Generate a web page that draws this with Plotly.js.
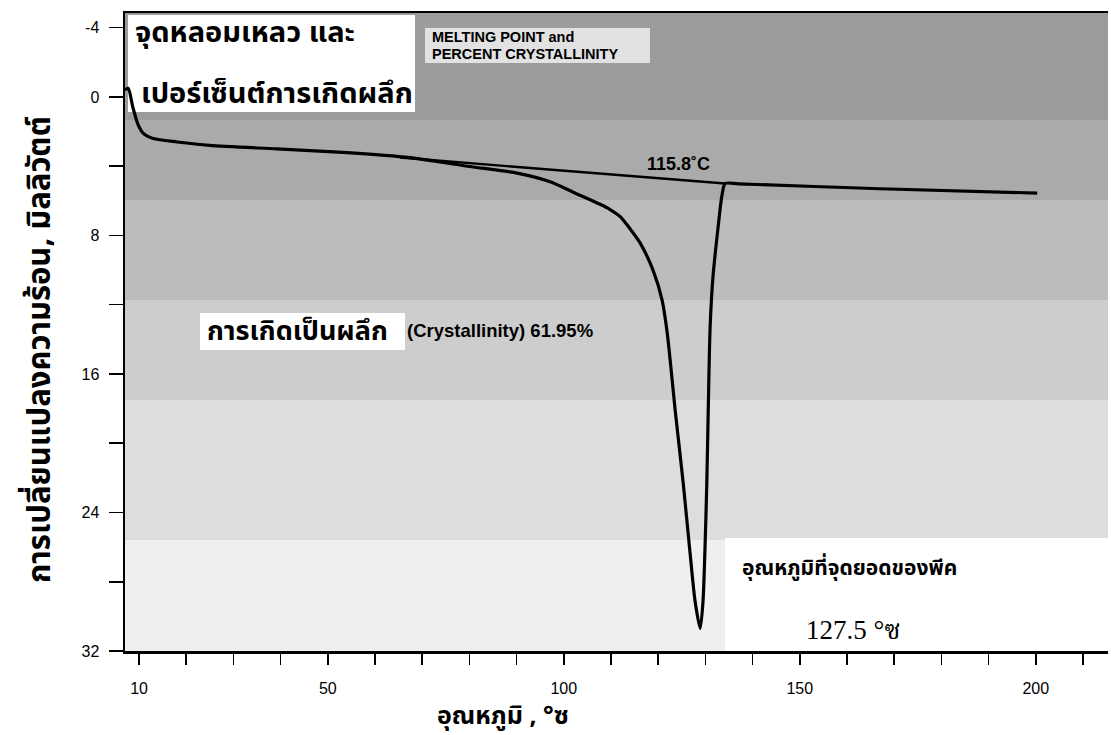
<!DOCTYPE html>
<html>
<head>
<meta charset="utf-8">
<script src="https://cdn.plot.ly/plotly-3.0.1.min.js"></script>
<style>html,body{margin:0;padding:0;background:#fff;}#chart{width:1111px;height:735px;}</style>
</head>
<body>
<div id="chart"></div>
<script>
// DSC curve (temperature °C vs heat flow mW)
const temperature = [7.0, 7.7, 8.7, 9.8, 10.9, 13.0, 18.1, 25.0, 39.2, 53.2, 67.4, 79.5, 90.1, 97.1, 102.0, 107.7, 109.8, 111.9, 114.0, 116.1, 118.9, 120.8, 121.9, 122.9, 123.6, 125.3, 126.7, 127.8, 128.9, 129.5, 129.9, 130.3, 130.6, 131.0, 131.6, 132.7, 133.5, 134.2, 137.0, 167.0, 200.3];
const heatFlow    = [-0.4, -0.5, 0.6, 1.6, 2.1, 2.4, 2.6, 2.8, 3.0, 3.2, 3.5, 4.0, 4.4, 4.9, 5.5, 6.2, 6.5, 6.9, 7.6, 8.4, 10.0, 11.7, 13.6, 16.2, 18.1, 22.3, 26.2, 29.1, 30.7, 29.1, 26.2, 22.3, 18.1, 13.3, 10.4, 7.5, 5.7, 5.0, 5.02, 5.3, 5.55];
// extrapolated baseline (onset construction line)
const tangentT = [65.3, 134.2];
const tangentV = [3.5, 5.0];

const xTickVals = [10,20,30,40,50,60,70,80,90,100,110,120,130,140,150,160,170,180,190,200,210];
const xTickText = ['10','','','','50','','','','','100','','','','','150','','','','','200',''];
const yTickVals = [-4,0,4,8,12,16,20,24,28,32];
const yTickText = ['-4','0','','8','','16','','24','','32'];

const xTitle = 'อุณหภูมิ , °ซ';
const yTitle = 'การเปลี่ยนแปลงความร้อน, มิลลิวัตต์';

// layout helpers (pixel -> paper)
const L = 125, R = 1108, T = 13, B = 651;
const px = x => (x - L) / (R - L);
const py = y => (B - y) / (B - T);

const thaiFont = '"Noto Sans Thai", "Noto Serif Thai", Loma, Garuda, "Tlwg Typo", "Noto Sans", sans-serif';
const latinFont = '"Liberation Sans", Arial, sans-serif';

function band(y0, y1, color, x0, x1) {
  return {type:'rect', xref:'paper', yref:'paper', layer:'below',
    x0: px(x0 === undefined ? L : x0), x1: px(x1 === undefined ? R : x1),
    y0: py(y1), y1: py(y0), fillcolor: color, line:{width:0}};
}

const shapes = [
  band(13, 120, '#9c9c9c'),
  band(120, 200, '#aaaaaa'),
  band(200, 300, '#bcbcbc'),
  band(300, 400, '#cdcdcd'),
  band(400, 540, '#dddddd'),
  band(540, 651, '#efefef'),
  band(15, 112, '#ffffff', 128, 415),
  band(28, 63, '#e2e2e2', 425, 650),
  band(313, 350, '#ffffff', 200, 405),
  band(538, 651, '#ffffff', 725, 1108)
];

function ann(text, x, y, size, family, opts) {
  return Object.assign({text: text, xref:'paper', yref:'paper', x: px(x), y: py(y),
    xanchor:'left', yanchor:'middle', showarrow:false,
    font:{size:size, family:family, color:'#000'}}, opts || {});
}

const annotations = [
  ann('<b>จุดหลอมเหลว และ</b>', 133, 33, 29, thaiFont),
  ann('<b>เปอร์เซ็นต์การเกิดผลึก</b>', 139, 94, 29, thaiFont),
  ann('<b>MELTING POINT and</b>', 430, 37, 14.5, latinFont),
  ann('<b>PERCENT CRYSTALLINITY</b>', 430, 54, 14.5, latinFont),
  ann('<b>115.8˚C</b>', 645, 164, 18, latinFont),
  ann('<b>การเกิดเป็นผลึก</b>', 205, 331, 27, thaiFont),
  ann('<b>(Crystallinity) 61.95%</b>', 405, 330, 18.5, latinFont),
  ann('<b>อุณหภูมิที่จุดยอดของพีค</b>', 740, 568, 21, thaiFont),
  ann('127.5 °ซ', 804, 630, 27, '"Liberation Serif", "Noto Serif Thai", ' + thaiFont),
  ann('<b>' + xTitle + '</b>', 503, 716, 25, thaiFont, {xanchor:'center'}),
  ann('<b>' + yTitle + '</b>', 40, 350, 31, thaiFont, {xanchor:'center', textangle:-90})
];

const traces = [
  {x: temperature, y: heatFlow, type:'scatter', mode:'lines',
   line:{color:'#000', width:3.2, shape:'spline', smoothing:0.7}, hoverinfo:'skip'},
  {x: tangentT, y: tangentV, type:'scatter', mode:'lines',
   line:{color:'#000', width:2.4}, hoverinfo:'skip'}
];

const layout = {
  width:1111, height:735,
  margin:{l:L, r:1111-R, t:T, b:735-B},
  paper_bgcolor:'#fff', plot_bgcolor:'rgba(0,0,0,0)',
  showlegend:false,
  xaxis:{range:[7.03, 215.3], tickvals:xTickVals, ticktext:xTickText,
    ticks:'outside', ticklen:11, tickwidth:1.5, tickcolor:'#000',
    showline:true, linecolor:'#000', linewidth:2.5, mirror:true,
    showgrid:false, zeroline:false, ticklabelstandoff:10,
    tickfont:{size:16, family:latinFont, color:'#000'},
    title:{text:''}},
  yaxis:{range:[32, -4.85], tickvals:yTickVals, ticktext:yTickText,
    ticks:'outside', ticklen:14, tickwidth:1.5, tickcolor:'#000',
    showline:true, linecolor:'#000', linewidth:2.5,
    showgrid:false, zeroline:false, ticklabelstandoff:6,
    tickfont:{size:16, family:latinFont, color:'#000'},
    title:{text:''}},
  shapes: shapes,
  annotations: annotations
};

Plotly.newPlot('chart', traces, layout, {staticPlot:true, displayModeBar:false});
</script>
</body>
</html>
